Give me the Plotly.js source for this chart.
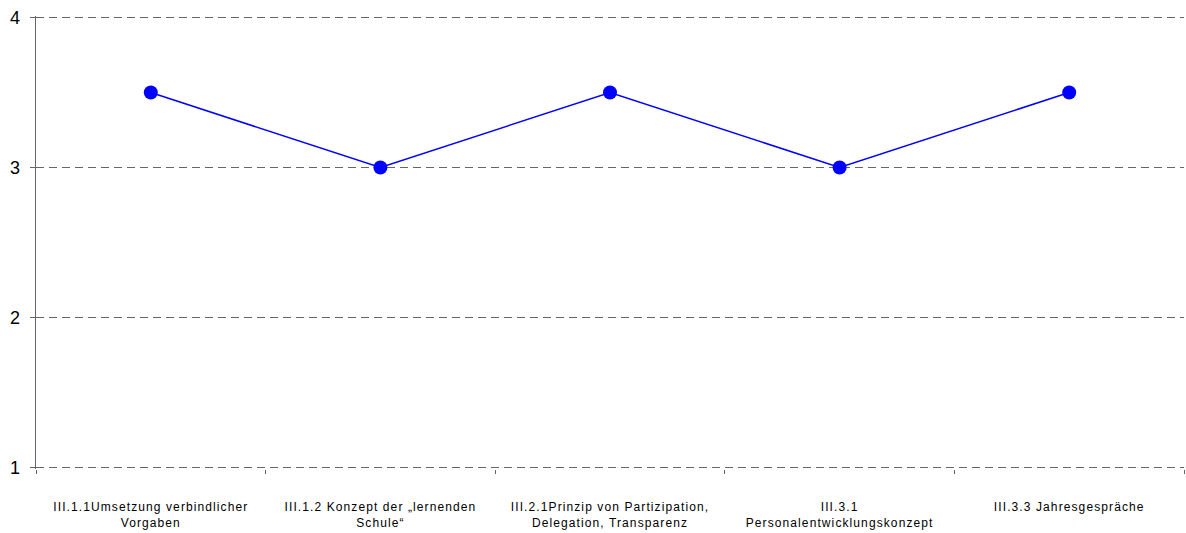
<!DOCTYPE html>
<html>
<head>
<meta charset="utf-8">
<script src="https://cdn.plot.ly/plotly-3.0.1.min.js"></script>
<style>
html,body{margin:0;padding:0;background:#fff;}
#chart{width:1186px;height:533px;}
.xtick text{letter-spacing:1.1px;}
</style>
</head>
<body>
<div id="chart"></div>
<script>
const categories = [
  "III.1.1Umsetzung verbindlicher<br>Vorgaben",
  "III.1.2 Konzept der „lernenden<br>Schule“",
  "III.2.1Prinzip von Partizipation,<br>Delegation, Transparenz",
  "III.3.1<br>Personalentwicklungskonzept",
  "III.3.3 Jahresgespräche"
];
const values = [3.5, 3.0, 3.5, 3.0, 3.5];
const yTicks = [1, 2, 3, 4];

const trace = {
  type: 'scatter',
  mode: 'lines+markers',
  x: categories,
  y: values,
  line: {color: '#0000FF', width: 1.5},
  marker: {color: '#0000FF', size: 14},
  hoverinfo: 'none'
};

const layout = {
  width: 1186, height: 533,
  margin: {l: 36, r: 2, t: 15.5, b: 63.5},
  paper_bgcolor: '#fff', plot_bgcolor: '#fff',
  showlegend: false,
  font: {family: 'Liberation Sans, Arial, sans-serif', color: '#000'},
  xaxis: {
    type: 'category',
    range: [-0.5, 4.5],
    showgrid: false,
    zeroline: false,
    showline: false,
    ticks: 'outside',
    tickson: 'boundaries',
    ticklen: 4,
    tickcolor: '#666666',
    tickwidth: 1,
    ticklabelstandoff: 29,
    tickfont: {size: 12, family: 'Liberation Sans, Arial, sans-serif'}
  },
  yaxis: {
    range: [0.99, 4.01],
    tickvals: yTicks,
    ticktext: yTicks.map(String),
    showgrid: true,
    gridcolor: '#666666',
    griddash: '8px,5px',
    gridwidth: 1.2,
    zeroline: false,
    showline: true,
    linecolor: '#666666',
    linewidth: 1.5,
    ticks: 'outside',
    ticklen: 5,
    tickcolor: '#666666',
    ticklabelstandoff: 6,
    tickfont: {size: 18, family: 'Liberation Sans, Arial, sans-serif'}
  }
};

Plotly.newPlot('chart', [trace], layout, {displayModeBar: false, staticPlot: true});
</script>
</body>
</html>
